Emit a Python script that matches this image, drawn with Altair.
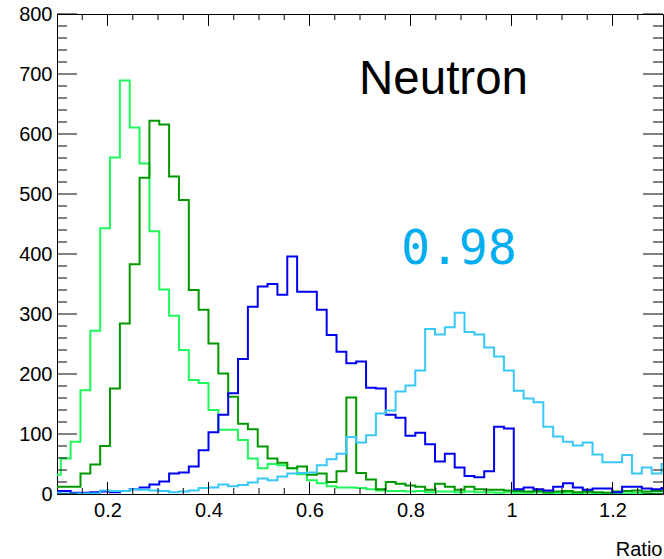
import altair as alt
import pandas as pd

# ---- data ----
BIN_START = 0.088      # left edge of the first (partly visible) bin
BIN_WIDTH = 0.0195

LIGHT_GREEN = [32, 59, 87, 173, 272, 443, 561, 689, 611, 551, 438, 341, 297, 240, 190, 185,
               140, 107, 107, 90, 59, 43, 50, 48, 43, 33, 23, 18, 13, 11, 11, 10, 8, 6, 5, 5,
               4, 5, 3, 4, 4, 3, 4, 3, 3, 2, 3, 2, 2, 3, 1, 2, 2, 1, 2, 1, 2, 1, 1, 2, 1, 1, 1]
DARK_GREEN = [12, 12, 12, 34, 49, 80, 176, 284, 383, 527, 622, 616, 529, 490, 340, 307,
              251, 201, 162, 117, 108, 79, 59, 52, 43, 46, 32, 34, 20, 38, 161, 35, 24, 8, 20, 17,
              14, 12, 7, 17, 12, 7, 12, 8, 7, 7, 6, 5, 4, 5, 3, 4, 5, 3, 4, 3, 2, 4, 5, 6, 4, 5, 6]
BLUE = [5, 5, 2, 2, 3, 4, 3, 5, 8, 11, 16, 21, 34, 36, 46, 73,
        103, 132, 168, 225, 312, 346, 350, 332, 396, 337, 337, 307, 265, 237, 218, 221, 177, 176, 132, 127,
        97, 102, 83, 54, 67, 44, 30, 28, 38, 112, 109, 8, 11, 8, 6, 12, 18, 11, 7, 9, 9, 3, 12, 12, 9, 8, 10]
CYAN = [2, 1, 1, 1, 1, 6, 5, 5, 8, 7, 6, 5, 3, 4, 6, 10,
        11, 16, 13, 15, 19, 26, 23, 29, 34, 35, 36, 48, 58, 67, 95, 86, 98, 134, 139, 171,
        181, 206, 275, 266, 278, 302, 270, 266, 244, 229, 206, 172, 159, 153, 112, 96, 87, 81, 86, 66, 53, 53, 65, 34, 44, 34, 50]

SERIES = ["light", "dark", "blue", "cyan"]
SERIES_VALUES = [LIGHT_GREEN, DARK_GREEN, BLUE, CYAN]
SERIES_COLORS = ["#1EF85A", "#009800", "#0000F0", "#38C8FA"]

X_MAJOR = [0.2, 0.4, 0.6, 0.8, 1.0, 1.2]
X_MINOR = [0.15, 0.25, 0.3, 0.35, 0.45, 0.5, 0.55, 0.65, 0.7, 0.75, 0.85, 0.9, 0.95,
           1.05, 1.1, 1.15, 1.25]
Y_MAJOR = [0, 100, 200, 300, 400, 500, 600, 700, 800]
Y_MINOR = [v for v in range(20, 800, 20) if v % 100 != 0]

TITLE_TEXT = "Neutron"
VALUE_TEXT = "0.98"
X_TITLE = "Ratio"

W, H = 606, 480

# ---- build tables ----
def hist_frame(vals):
    n = len(vals)
    edges = [BIN_START + BIN_WIDTH * i for i in range(n + 1)]
    return pd.DataFrame({"x": edges, "value": list(vals) + [vals[-1]]})

xscale = alt.Scale(domain=[0.1, 1.3], nice=False, zero=False)
yscale = alt.Scale(domain=[0, 800], nice=False)
FONT = "Liberation Sans"

xaxis = alt.Axis(values=X_MAJOR, format="~g", ticks=False, domain=False, grid=False,
                 labelFontSize=20, labelFont=FONT, labelColor="black", labelPadding=6,
                 labelFlush=False, title=X_TITLE, titleFont=FONT, titleFontSize=20,
                 titleFontWeight="normal", titleColor="black", titleAlign="right",
                 titleBaseline="alphabetic", titleX=605, titleY=61)
yaxis = alt.Axis(values=Y_MAJOR, ticks=False, domain=False, grid=False,
                 labelFontSize=20, labelFont=FONT, labelColor="black", labelPadding=5,
                 labelFlush=False, title=None)

def X(field):
    return alt.X(field, type="quantitative", scale=xscale, axis=xaxis)

def Y(field):
    return alt.Y(field, type="quantitative", scale=yscale, axis=yaxis)

layers = []
for name, vals, col in zip(SERIES, SERIES_VALUES, SERIES_COLORS):
    layers.append(
        alt.Chart(hist_frame(vals)).mark_line(interpolate="step-after", strokeWidth=2,
                                              clip=True, color=col)
        .encode(x=X("x"), y=Y("value"))
    )

xmaj = pd.DataFrame({"t": X_MAJOR})
xmin = pd.DataFrame({"t": X_MINOR})
ymaj = pd.DataFrame({"t": Y_MAJOR})
ymin = pd.DataFrame({"t": Y_MINOR})

def rule(df):
    return alt.Chart(df).mark_rule(color="black", strokeWidth=1)

ticks = [
    rule(xmaj).encode(x=X("t"), y=alt.value(H), y2=alt.value(H - 12)),
    rule(xmaj).encode(x=X("t"), y=alt.value(0), y2=alt.value(12)),
    rule(xmin).encode(x=X("t"), y=alt.value(H), y2=alt.value(H - 6)),
    rule(xmin).encode(x=X("t"), y=alt.value(0), y2=alt.value(6)),
    rule(ymaj).encode(y=Y("t"), x=alt.value(0), x2=alt.value(20)),
    rule(ymaj).encode(y=Y("t"), x=alt.value(W - 20), x2=alt.value(W)),
    rule(ymin).encode(y=Y("t"), x=alt.value(0), x2=alt.value(10)),
    rule(ymin).encode(y=Y("t"), x=alt.value(W - 10), x2=alt.value(W)),
]

title_txt = alt.Chart(pd.DataFrame({"label": [TITLE_TEXT]})).mark_text(
    font=FONT, fontSize=47.5, align="left", baseline="alphabetic", color="black"
).encode(text="label:N", x=alt.value(302), y=alt.value(80))

value_txt = alt.Chart(pd.DataFrame({"label": [VALUE_TEXT]})).mark_text(
    font="DejaVu Sans Mono", fontSize=48, align="left", baseline="alphabetic", color="#00AEEF"
).encode(text="label:N", x=alt.value(344), y=alt.value(249.5))

chart = alt.layer(*layers, *ticks, title_txt, value_txt).properties(
    width=W, height=H,
    autosize=alt.AutoSizeParams(type="none"),
    padding={"left": 57, "top": 14, "right": 1, "bottom": 65},
    background="white",
).configure_view(stroke="black", strokeWidth=1)

chart.save("out.html", embed_options={"renderer": "svg", "actions": False})
